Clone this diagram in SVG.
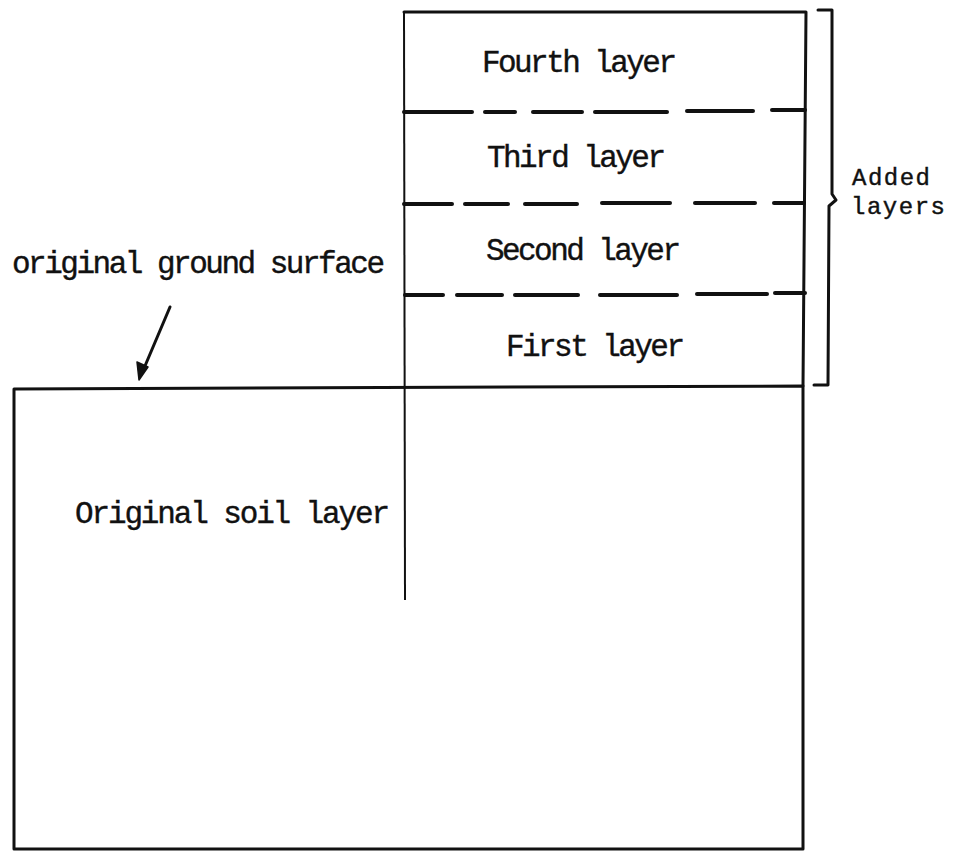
<svg xmlns="http://www.w3.org/2000/svg" width="957" height="852" viewBox="0 0 957 852">
<style>
  .ln{stroke:#111;stroke-width:3;fill:none;stroke-linecap:round;stroke-linejoin:round}
  .dash{stroke:#111;stroke-width:4;fill:none;stroke-linecap:round}
  .thin{stroke:#111;stroke-width:2;fill:none}
  text{font-family:"Liberation Mono","Courier New",monospace;font-size:31px;fill:#111;stroke:#111;stroke-width:0.4}
  text.sm{font-size:24px}
</style>
<rect width="957" height="852" fill="#fff"/>
<g id="original-soil">
  <path class="ln" d="M14,389 L803,386 L803,849 L14,849 Z"/>
  <text x="75" y="523" textLength="315">Original soil layer</text>
</g>
<g id="added-layers">
  <path class="ln" d="M404,12 L806,12 L803,386"/>
  <line class="thin" x1="404" y1="12" x2="405" y2="600"/>
</g>
<g id="dividers">
  <g class="dash">
    <line x1="404" y1="112" x2="472" y2="112"/><line x1="485" y1="112" x2="515" y2="112"/><line x1="533" y1="112" x2="582" y2="112"/><line x1="595" y1="112" x2="667" y2="112"/><line x1="687" y1="111" x2="753" y2="111"/><line x1="772" y1="110" x2="805" y2="110"/>
    <line x1="404" y1="204" x2="452" y2="204"/><line x1="465" y1="204" x2="508" y2="204"/><line x1="525" y1="204" x2="577" y2="204"/><line x1="602" y1="203" x2="670" y2="203"/><line x1="695" y1="203" x2="755" y2="203"/><line x1="774" y1="203" x2="804" y2="203"/>
    <line x1="405" y1="295" x2="443" y2="295"/><line x1="457" y1="295" x2="502" y2="295"/><line x1="515" y1="295" x2="578" y2="295"/><line x1="600" y1="295" x2="677" y2="295"/><line x1="697" y1="294" x2="767" y2="294"/><line x1="775" y1="293" x2="805" y2="293"/>
  </g>
</g>
<g id="layer4"><text x="482" y="72" textLength="195">Fourth layer</text></g>
<g id="layer3"><text x="487" y="167" textLength="179">Third layer</text></g>
<g id="layer2"><text x="486" y="260" textLength="195">Second layer</text></g>
<g id="layer1"><text x="506" y="356" textLength="179">First layer</text></g>
<g id="bracket">
  <path class="ln" d="M818,10 L832,10 L832,194 L836,200 L829,206 L828,385 L814,385"/>
  <text class="sm" x="852" y="185" textLength="78">Added</text>
  <text class="sm" x="851" y="214" textLength="94">layers</text>
</g>
<g id="ground-label">
  <text x="12" y="273" textLength="373">original ground surface</text>
</g>
<g id="connectors">
  <line class="ln" x1="170" y1="307" x2="142" y2="373"/>
  <path d="M139,380 L137,362 L148,367 Z" fill="#111" stroke="#111" stroke-width="1.5" stroke-linejoin="round"/>
</g>
</svg>
